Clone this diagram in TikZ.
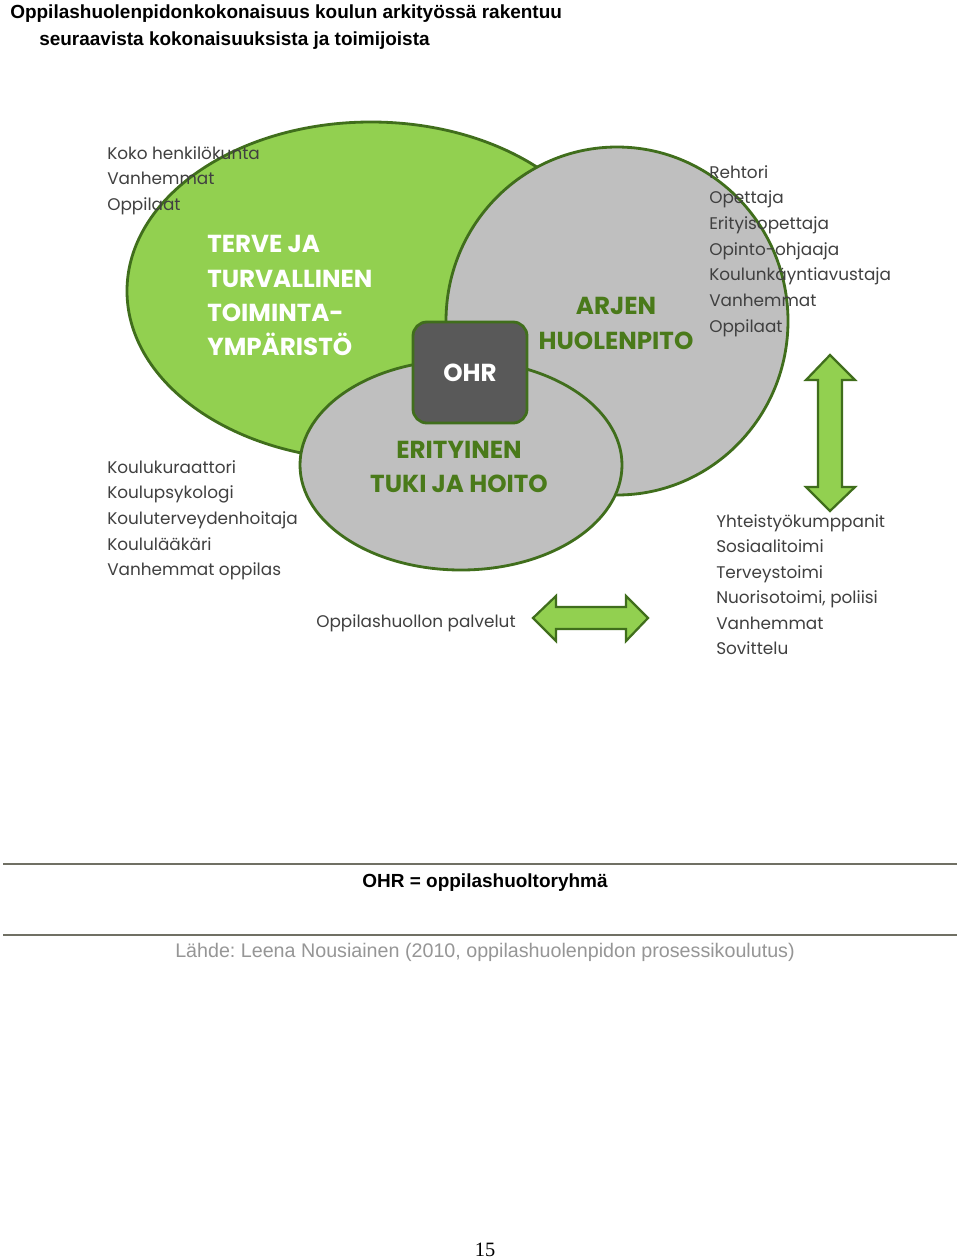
\documentclass[tikz,border=0pt]{standalone}
\usepackage{fontspec}
\setmainfont{Liberation Sans}
\newfontfamily\gothicfont{Poppins}
\newfontfamily\pagefont{Liberation Serif}
\usetikzlibrary{positioning}
\frenchspacing
\definecolor{leafgreen}{RGB}{146, 208, 80}
\definecolor{leafborder}{RGB}{64, 110, 28}
\definecolor{leaftext}{RGB}{74, 122, 26}
\definecolor{foggray}{RGB}{191, 191, 191}
\definecolor{ohrgray}{RGB}{89, 89, 89}
\definecolor{listtext}{RGB}{64, 64, 64}
\definecolor{ruleline}{RGB}{112, 112, 100}
\definecolor{sourcetext}{RGB}{150, 150, 150}

\begin{document}
\begin{tikzpicture}[
    x=0.025cm, y=-0.025cm,
    zone/.style={
        line width=2pt, draw=leafborder
    },
    greenzone/.style={zone, fill=leafgreen},
    grayzone/.style={zone, fill=foggray},
    ohrbox/.style={
        rectangle, rounded corners=0.35cm,
        draw=leafborder, fill=ohrgray, line width=2pt,
        minimum width=2.85cm, minimum height=2.525cm,
        text=white, font=\gothicfont\bfseries\fontsize{17.5}{20}\selectfont
    },
    biglbl/.style={
        font=\gothicfont\bfseries\fontsize{17.5}{20}\selectfont,
        inner sep=0pt, anchor=base
    },
    listlbl/.style={
        font=\gothicfont\fontsize{12}{14}\selectfont,
        text=listtext, inner sep=0pt, anchor=base west
    },
    bigarrow/.style={
        draw=leafborder, fill=leafgreen, line width=1.6pt
    },
    rulestyle/.style={draw=ruleline, line width=1pt},
    titlelbl/.style={
        font=\bfseries\fontsize{13.5}{16}\selectfont,
        inner sep=0pt, anchor=base west
    }
]
\useasboundingbox[fill=white] (0,0) rectangle (960,1258);

% Otsikko
\node[titlelbl] (title1) at (10,18) {Oppilashuolenpidonkokonaisuus koulun arkityössä rakentuu};
\node[titlelbl] (title2) at (39,45) {seuraavista kokonaisuuksista ja toimijoista};

% 1. Kokonaisuudet
\coordinate (envc) at (371,291);
\coordinate (arjc) at (617,321);
\coordinate (tukic) at (461,465);
\draw[greenzone] (envc) ellipse [x radius=244, y radius=169];
\draw[grayzone] (arjc) ellipse [x radius=171, y radius=174];
\draw[grayzone] (tukic) ellipse [x radius=161, y radius=105];

% 2. OHR
\node[ohrbox] (ohr) at (470,372.5) {OHR};

% 3. Kokonaisuuksien nimet
\node[biglbl, anchor=base west, text=white] (env1) at (207,252) {TERVE JA};
\node[biglbl, anchor=base west, text=white] (env2) at (207,287) {TURVALLINEN};
\node[biglbl, anchor=base west, text=white] (env3) at (207,321) {TOIMINTA-};
\node[biglbl, anchor=base west, text=white] (env4) at (207,355) {YMPÄRISTÖ};

\node[biglbl, text=leaftext] (arj1) at (616,314) {ARJEN};
\node[biglbl, text=leaftext] (arj2) at (616,349) {HUOLENPITO};

\node[biglbl, text=leaftext] (tuki1) at (459,458) {ERITYINEN};
\node[biglbl, text=leaftext] (tuki2) at (459,492) {TUKI JA HOITO};

% 4. Toimijat
\foreach \t [count=\i] in {Koko henkilökunta, Vanhemmat, Oppilaat}
    \node[listlbl] (staff\i) at (107,{159+25.5*(\i-1)}) {\t};

\foreach \t [count=\i] in {Rehtori, Opettaja, Erityisopettaja, Opinto-ohjaaja, Koulunkäyntiavustaja, Vanhemmat, Oppilaat}
    \node[listlbl] (school\i) at (709,{178+25.7*(\i-1)}) {\t};

\foreach \t [count=\i] in {Koulukuraattori, Koulupsykologi, Kouluterveydenhoitaja, Koululääkäri, Vanhemmat oppilas}
    \node[listlbl] (care\i) at (107,{473+25.7*(\i-1)}) {\t};

\foreach \t [count=\i] in {Yhteistyökumppanit, Sosiaalitoimi, Terveystoimi, {Nuorisotoimi, poliisi}, Vanhemmat, Sovittelu}
    \node[listlbl] (partner\i) at (716,{527+25.5*(\i-1)}) {\t};

\node[listlbl] (services) at (316,627) {Oppilashuollon palvelut};

% 5. Nuolet
\draw[bigarrow] (830,355) -- (855,380) -- (842,380) -- (842,487) -- (855,487) -- (830,511)
    -- (806,487) -- (818,487) -- (818,380) -- (806,380) -- cycle;
\draw[bigarrow] (533,618) -- (556,596) -- (556,607) -- (626,607) -- (626,596) -- (648,618)
    -- (626,641) -- (626,629) -- (556,629) -- (556,641) -- cycle;

% 6. Selite ja lähde
\coordinate (rule1w) at (3,864);
\coordinate (rule1e) at (957,864);
\coordinate (rule2w) at (3,935);
\coordinate (rule2e) at (957,935);
\draw[rulestyle] (rule1w) -- (rule1e);
\draw[rulestyle] (rule2w) -- (rule2e);

\node[font=\bfseries\fontsize{13.5}{16}\selectfont, inner sep=0pt, anchor=base] (legend) at (485,887) {OHR = oppilashuoltoryhmä};
\node[font=\fontsize{14}{16}\selectfont, text=sourcetext, inner sep=0pt, anchor=base] (source) at (485,957) {Lähde: Leena Nousiainen (2010, oppilashuolenpidon prosessikoulutus)};

\node[font=\pagefont\fontsize{14.5}{17}\selectfont, inner sep=0pt, anchor=base] (pageno) at (485,1256) {15};

\end{tikzpicture}
\end{document}
